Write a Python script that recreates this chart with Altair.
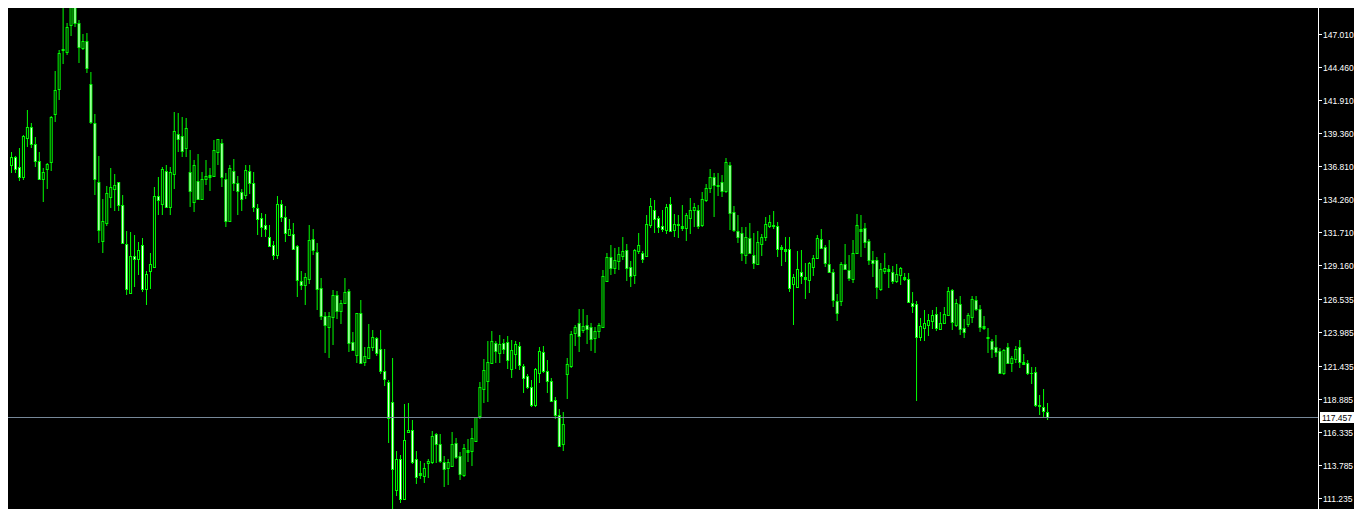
import altair as alt
import pandas as pd

# weekly bars (price units)
opens = [
    136.94, 137.56, 136.74, 135.97, 138.98, 139.83, 138.51, 137.20, 135.81, 136.58,
    137.18, 140.88, 142.76, 145.82, 145.67, 147.70, 149.25, 147.86, 145.95, 146.47,
    143.15, 140.14, 135.58, 131.02, 132.41, 134.42, 135.09, 135.58, 133.80, 130.79,
    127.06, 129.89, 129.69, 130.71, 127.32, 128.71, 129.07, 134.50, 133.93, 136.43,
    133.65, 136.20, 139.29, 139.13, 138.20, 136.38, 134.03, 135.66, 134.32, 135.86,
    136.12, 136.04, 137.95, 138.59, 135.81, 132.59, 136.43, 135.50, 134.83, 134.58,
    136.43, 135.50, 133.57, 132.80, 132.26, 131.33, 130.71, 129.99, 133.88, 132.88,
    131.54, 131.56, 130.66, 127.93, 127.63, 128.09, 131.18, 130.17, 127.39, 125.23,
    124.43, 125.16, 126.88, 125.62, 126.29, 127.19, 123.22, 122.22, 125.46, 121.73,
    122.04, 122.84, 123.53, 122.68, 120.99, 120.14, 118.64, 111.82, 114.19, 111.15,
    116.27, 116.43, 114.19, 113.01, 112.93, 113.88, 114.01, 116.12, 115.35, 113.98,
    113.49, 113.70, 115.43, 114.42, 113.01, 114.88, 114.81, 115.63, 117.56, 119.65,
    120.26, 121.60, 123.15, 122.37, 123.15, 123.22, 121.19, 122.30, 122.92, 121.40,
    120.65, 119.75, 118.41, 120.83, 122.45, 121.01, 120.24, 118.77, 117.59, 115.35,
    120.75, 121.42, 123.92, 124.69, 124.20, 124.54, 124.38, 123.58, 124.13, 124.43,
    127.99, 129.79, 128.99, 129.53, 129.92, 130.33, 129.02, 128.42, 130.30, 130.10,
    129.92, 132.28, 133.42, 132.80, 132.18, 131.90, 133.88, 131.92, 132.34, 132.21,
    132.08, 132.85, 133.47, 133.47, 132.28, 134.22, 135.17, 135.97, 135.37, 135.58,
    134.94, 136.89, 133.26, 131.80, 131.69, 129.94, 131.26, 129.99, 129.25, 130.79,
    131.33, 132.21, 132.26, 132.18, 130.41, 130.41, 130.41, 127.70, 127.52, 128.63,
    128.24, 128.06, 129.07, 129.76, 131.18, 130.56, 129.25, 128.63, 126.39, 126.44,
    129.25, 128.78, 128.14, 130.12, 131.95, 132.08, 131.02, 129.56, 129.56, 127.37,
    128.76, 128.86, 128.63, 127.99, 128.45, 128.24, 128.09, 126.24, 126.16, 123.61,
    124.36, 124.59, 124.85, 125.39, 124.23, 124.69, 125.34, 127.24, 124.59, 126.16,
    124.31, 124.61, 125.21, 126.47, 125.77, 124.46, 123.61, 123.30, 122.84, 122.56,
    120.83, 122.84, 121.60, 121.91, 122.84, 121.68, 121.60, 120.88, 120.91, 118.39,
    118.21, 117.82,
]
highs = [
    137.92, 137.61, 138.23, 139.23, 141.17, 140.14, 139.08, 137.95, 136.66, 137.05,
    140.70, 144.20, 145.80, 149.02, 147.86, 149.40, 149.78, 148.11, 147.03, 147.08,
    144.07, 140.86, 137.64, 134.29, 135.30, 136.71, 136.22, 135.60, 134.60, 131.82,
    131.74, 131.51, 130.95, 131.28, 128.76, 130.10, 135.22, 136.02, 136.79, 136.94,
    136.79, 141.01, 140.91, 140.65, 140.55, 138.08, 137.30, 137.77, 136.40, 137.30,
    136.71, 138.85, 138.92, 138.95, 136.27, 136.89, 137.36, 136.07, 135.04, 136.92,
    136.92, 136.38, 133.91, 133.19, 133.13, 132.26, 131.02, 134.52, 134.22, 133.75,
    132.72, 132.41, 130.71, 128.73, 128.58, 132.28, 131.98, 130.87, 128.19, 125.57,
    125.57, 127.27, 127.16, 126.49, 128.19, 127.34, 124.00, 125.48, 126.49, 122.84,
    124.64, 124.18, 123.66, 124.18, 122.68, 120.32, 121.99, 114.81, 114.50, 118.46,
    118.57, 117.23, 114.86, 114.04, 113.93, 114.19, 116.38, 116.25, 116.12, 114.45,
    114.24, 116.30, 115.84, 114.78, 115.37, 115.73, 116.58, 117.48, 120.16, 121.91,
    123.30, 124.07, 123.30, 123.76, 123.48, 123.71, 123.40, 123.30, 123.28, 121.55,
    120.78, 120.32, 121.24, 122.89, 122.94, 121.86, 120.47, 119.03, 118.08, 117.82,
    121.99, 124.10, 124.56, 125.80, 125.80, 125.35, 124.72, 124.43, 124.74, 128.81,
    130.10, 130.71, 130.51, 130.56, 131.33, 130.79, 129.48, 130.41, 131.64, 130.30,
    133.03, 134.34, 134.22, 133.00, 133.44, 133.88, 134.45, 133.13, 133.03, 133.80,
    133.19, 134.34, 133.96, 133.80, 134.81, 135.43, 136.58, 136.27, 136.27, 136.17,
    137.43, 137.15, 133.75, 133.03, 132.10, 132.10, 132.41, 131.64, 131.80, 131.59,
    132.88, 133.03, 133.39, 132.52, 130.71, 131.33, 131.33, 128.50, 130.28, 130.35,
    129.32, 129.43, 129.94, 131.51, 131.95, 130.74, 131.13, 128.86, 126.93, 129.45,
    130.82, 129.97, 131.13, 133.13, 133.06, 132.46, 131.18, 130.28, 129.79, 129.32,
    130.10, 129.17, 129.12, 129.25, 129.07, 128.55, 128.55, 127.11, 126.44, 125.08,
    125.72, 125.39, 125.72, 125.98, 125.57, 125.93, 127.47, 127.37, 126.55, 126.80,
    125.00, 125.52, 126.80, 126.80, 126.08, 125.26, 124.31, 123.46, 123.77, 122.76,
    122.68, 123.15, 122.17, 122.94, 123.41, 122.32, 121.86, 121.35, 121.35, 119.18,
    119.60, 118.51,
]
lows = [
    136.33, 136.33, 135.68, 135.76, 138.33, 138.26, 136.79, 135.76, 134.09, 135.09,
    136.48, 140.26, 141.94, 144.69, 145.44, 146.91, 147.60, 144.82, 145.80, 144.00,
    140.08, 134.63, 130.87, 130.10, 132.21, 133.57, 133.39, 133.39, 130.87, 126.85,
    126.99, 127.52, 128.40, 127.11, 126.08, 127.37, 128.99, 133.03, 133.06, 133.65,
    133.03, 135.04, 137.92, 137.56, 137.56, 133.70, 133.26, 134.22, 134.27, 135.37,
    134.94, 136.02, 136.94, 135.19, 132.16, 132.52, 134.94, 133.08, 133.39, 134.27,
    134.68, 133.29, 131.54, 131.38, 131.38, 130.61, 129.58, 129.68, 132.54, 131.00,
    131.44, 130.35, 126.75, 127.27, 126.13, 127.73, 129.97, 125.72, 124.95, 122.43,
    122.04, 123.02, 125.05, 124.67, 126.18, 122.50, 122.58, 121.60, 121.62, 121.42,
    121.91, 122.58, 122.17, 120.78, 119.85, 115.48, 109.55, 111.36, 110.84, 111.10,
    116.20, 113.86, 112.29, 112.70, 112.36, 112.77, 113.83, 113.88, 113.93, 112.08,
    112.23, 113.62, 114.19, 112.59, 112.85, 113.98, 113.70, 115.55, 117.33, 118.57,
    118.64, 121.58, 121.65, 121.60, 122.32, 121.19, 120.47, 121.14, 121.09, 119.34,
    119.65, 118.26, 118.21, 120.06, 120.83, 119.34, 118.64, 117.33, 115.17, 114.86,
    118.87, 121.27, 122.94, 122.50, 123.95, 123.10, 122.58, 122.37, 123.53, 124.38,
    127.91, 128.42, 128.50, 128.81, 129.58, 127.99, 127.52, 127.73, 130.02, 129.32,
    129.89, 132.03, 131.69, 131.69, 131.74, 131.59, 131.77, 131.36, 131.31, 131.85,
    131.07, 131.59, 132.10, 132.00, 132.10, 134.09, 134.73, 132.93, 134.52, 134.47,
    134.73, 131.90, 131.77, 130.87, 129.53, 129.27, 130.05, 128.91, 129.22, 129.89,
    131.05, 132.03, 131.95, 129.84, 129.12, 129.45, 127.14, 124.56, 127.50, 127.73,
    126.60, 127.06, 128.35, 129.63, 130.46, 129.07, 128.55, 125.98, 124.90, 126.03,
    128.81, 127.99, 127.83, 130.05, 129.79, 130.53, 129.17, 128.29, 126.60, 127.19,
    128.50, 127.45, 127.73, 127.78, 127.63, 127.99, 126.29, 125.51, 118.72, 123.35,
    123.35, 123.71, 124.28, 124.13, 124.18, 124.61, 125.26, 124.18, 124.43, 123.79,
    123.56, 124.43, 124.74, 125.62, 124.05, 124.18, 122.43, 122.02, 122.07, 120.83,
    120.73, 121.55, 120.93, 121.65, 121.24, 121.45, 120.73, 120.01, 118.26, 117.61,
    117.48, 117.23,
]
closes = [
    137.51, 136.63, 136.02, 139.16, 139.83, 138.51, 137.25, 135.86, 136.38, 137.00,
    140.65, 142.71, 145.54, 145.88, 147.55, 149.20, 147.91, 146.00, 146.47, 144.43,
    140.26, 135.81, 131.90, 132.57, 134.73, 135.19, 135.35, 133.86, 130.92, 127.37,
    129.89, 129.63, 130.35, 127.37, 128.50, 129.27, 134.50, 134.19, 136.58, 133.70,
    136.38, 139.52, 138.90, 138.02, 139.75, 134.94, 136.89, 134.27, 135.81, 136.07,
    135.97, 138.05, 138.90, 136.02, 132.62, 136.66, 135.50, 134.94, 134.32, 136.53,
    135.50, 133.70, 132.72, 132.16, 132.00, 130.69, 129.99, 133.91, 132.93, 131.64,
    131.95, 130.41, 128.06, 127.63, 128.24, 131.13, 130.33, 127.37, 125.23, 124.54,
    125.23, 126.88, 125.67, 126.24, 127.09, 123.15, 122.66, 125.46, 121.65, 122.14,
    122.84, 123.61, 122.43, 121.04, 120.37, 117.36, 113.42, 114.19, 111.10, 115.68,
    116.43, 114.01, 112.85, 113.16, 113.49, 114.04, 115.97, 115.35, 114.09, 113.42,
    113.96, 115.35, 114.34, 113.03, 115.04, 114.78, 115.81, 117.46, 119.75, 121.09,
    121.68, 123.30, 122.58, 123.07, 122.68, 121.83, 122.61, 123.07, 121.45, 120.44,
    119.75, 118.41, 121.17, 122.53, 121.04, 120.21, 118.72, 117.64, 115.25, 116.89,
    121.53, 123.84, 124.38, 123.69, 124.46, 124.23, 123.51, 124.07, 124.54, 128.35,
    129.81, 128.99, 129.56, 130.02, 130.25, 128.99, 128.37, 130.33, 130.71, 129.69,
    132.34, 133.73, 132.77, 132.16, 132.00, 133.65, 131.85, 132.34, 132.26, 132.08,
    133.03, 133.42, 133.65, 132.23, 134.27, 135.12, 135.97, 135.35, 135.32, 134.94,
    137.12, 133.24, 131.87, 131.36, 130.15, 131.38, 130.15, 129.32, 130.95, 131.33,
    132.34, 132.49, 132.18, 130.41, 130.56, 130.30, 127.45, 128.24, 128.86, 128.37,
    128.14, 129.32, 129.71, 131.25, 130.51, 129.32, 128.63, 126.52, 125.51, 129.27,
    128.86, 128.22, 130.10, 132.26, 131.85, 130.95, 129.61, 129.32, 127.52, 128.86,
    128.94, 128.76, 127.93, 128.47, 128.94, 128.14, 126.36, 126.06, 123.66, 124.46,
    124.69, 124.92, 125.36, 124.31, 124.69, 125.39, 127.16, 124.82, 126.24, 124.23,
    124.05, 125.31, 126.55, 125.77, 124.43, 124.36, 123.53, 122.74, 122.45, 120.88,
    122.63, 121.65, 121.99, 122.68, 121.73, 121.55, 120.88, 120.86, 118.41, 118.33,
    117.95, 117.457,
]
price_ticks = [147.010, 144.460, 141.910, 139.360, 136.810, 134.260, 131.710,
               129.160, 126.535, 123.985, 121.435, 118.885, 116.335, 113.785, 111.235]
tick_labels = ["147.010", "144.460", "141.910", "139.360", "136.810", "134.260", "131.710",
               "129.160", "126.535", "123.985", "121.435", "118.885", "116.335", "113.785",
               "111.235"]
bid_price = [117.457]
bid_label = ["117.457"]

n = len(opens)
df = pd.DataFrame({"bar": list(range(n)), "open": opens, "high": highs,
                   "low": lows, "close": closes})
df["top"] = df[["open", "close"]].max(axis=1)
df["bottom"] = df[["open", "close"]].min(axis=1)
df["bull"] = df["close"] >= df["open"]

LIME = "#00FF00"
W, H = 1310, 501
RIGHT = 36
FONT = "Liberation Sans"

xs = alt.Scale(domain=[0.375, 327.875], nice=False, zero=False)
ys = alt.Scale(domain=[110.354, 149.041], nice=False, zero=False, round=True)
X = alt.X("bar:Q", scale=xs, axis=None)

base = alt.Chart(df)

wicks = base.mark_rule(color=LIME, strokeWidth=1).encode(
    x=X, y=alt.Y("low:Q", scale=ys, axis=None), y2="high:Q")
bodies = base.mark_bar(size=3, color=LIME, y2Offset=1).encode(
    x=X, y=alt.Y("top:Q", scale=ys, axis=None), y2="bottom:Q")
inner = base.transform_filter("datum.top - datum.bottom > 0.16").mark_bar(
    size=1, yOffset=1).encode(
    x=X, y=alt.Y("top:Q", scale=ys, axis=None), y2="bottom:Q",
    color=alt.condition("datum.bull", alt.value("#000000"), alt.value("#FFFFFF")),
)

# right-hand price scale (drawn as marks)
ticks_df = pd.DataFrame({"price": price_ticks, "label": tick_labels})
axis_line = alt.Chart(ticks_df).mark_rule(color="white", strokeWidth=1).encode(
    x=alt.value(W + 0.5), y=alt.value(0), y2=alt.value(H))
tick_marks = alt.Chart(ticks_df).mark_rule(color="white", strokeWidth=1, yOffset=0.5).encode(
    x=alt.value(W + 1), x2=alt.value(W + 4), y=alt.Y("price:Q", scale=ys, axis=None))
tick_text = alt.Chart(ticks_df).mark_text(
    color="white", font=FONT, fontSize=8.5, align="left", baseline="middle", dy=0.5).encode(
    x=alt.value(W + 5), y=alt.Y("price:Q", scale=ys, axis=None), text="label:N")

bid = pd.DataFrame({"price": bid_price, "label": bid_label})
bid_line = alt.Chart(bid).mark_rule(color="#778899", strokeWidth=1, yOffset=0.5).encode(
    y=alt.Y("price:Q", scale=ys, axis=None))
bid_box = alt.Chart(bid).mark_rect(color="white", yOffset=-5, y2Offset=6).encode(
    x=alt.value(W + 2), x2=alt.value(W + RIGHT),
    y=alt.Y("price:Q", scale=ys, axis=None), y2=alt.Y2("price"))
bid_text = alt.Chart(bid).mark_text(
    color="black", font=FONT, fontSize=8.5, align="center", baseline="middle", dy=0.5).encode(
    x=alt.value(W + 19), y=alt.Y("price:Q", scale=ys, axis=None), text="label:N")

chart = alt.layer(
    wicks, bodies, inner, axis_line, tick_marks, tick_text, bid_line, bid_box, bid_text
).properties(
    width=W, height=H, autosize="none",
    padding={"left": 0, "top": 0, "right": RIGHT, "bottom": 0},
    background="black",
).configure_view(strokeWidth=0)

chart.save("out.html", embed_options={"renderer": "svg", "actions": False})
